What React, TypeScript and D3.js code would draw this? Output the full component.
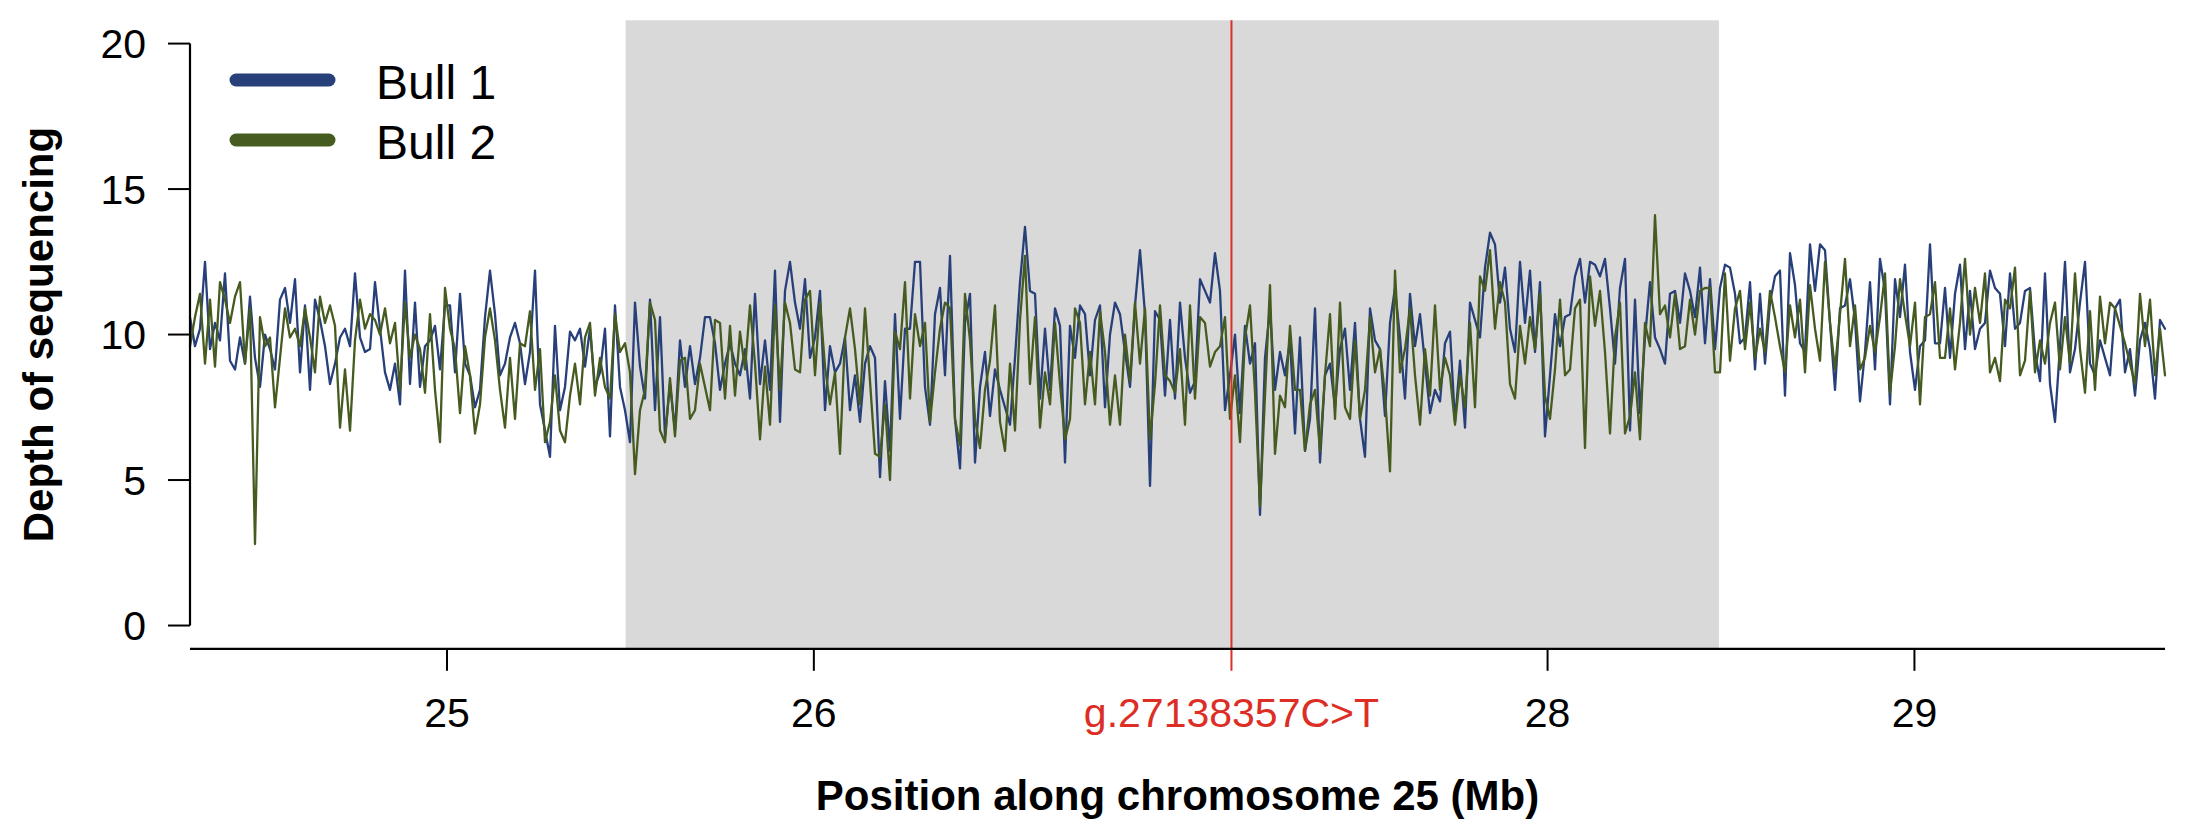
import React from 'react';
import * as d3 from 'd3';

// ---- data ----
const X_START = 24.2995; // Mb, first window
const X_END = 29.683; // Mb, last window
const xTicks = [25, 26, 28, 29];
const yTicks = [0, 5, 10, 15, 20];
const variantPos = 27.138357;
const variantLabel = 'g.27138357C>T';
const shadeStart = 25.487;
const shadeEnd = 28.467;
const seriesNames = ['Bull 1', 'Bull 2'];
const seriesColors = ['#27407A', '#465B1F'];

const bull1 = [
  10.6, 9.6, 10.2, 12.5, 9.5, 10.4, 9.8, 12.1, 9.1, 8.8, 9.9, 9.0, 11.3, 9.2, 8.2, 10.0, 9.5, 8.8, 11.2, 11.6,
  10.4, 11.9, 8.7, 11.0, 8.1, 11.2, 10.5, 9.6, 8.3, 9.0, 9.9, 10.2, 9.6, 12.1, 9.9, 9.4, 9.5, 11.8, 10.2, 8.7,
  8.1, 9.0, 7.6, 12.2, 8.3, 11.1, 8.2, 9.6, 9.8, 10.3, 8.8, 11.0, 11.0, 8.7, 11.4, 9.0, 8.6, 7.5, 8.1, 10.6,
  12.2, 10.7, 8.6, 9.0, 9.9, 10.4, 9.7,
  8.3, 9.4, 12.2, 7.6, 6.7, 5.8, 10.3, 7.4, 8.2, 10.1, 9.8, 10.2, 8.9, 10.2, 8.2, 8.7, 10.2, 6.5, 11.0, 8.2,
  7.4, 6.3, 11.1, 8.9, 7.8, 11.2, 7.4, 10.6, 6.5, 8.3, 6.7, 9.8, 8.2, 9.6, 8.3, 9.2, 10.6, 10.6, 9.7, 8.1,
  9.0, 9.7, 9.0, 8.6, 9.5, 7.8, 11.4, 8.3, 9.8, 8.1, 12.2, 7.0, 11.5, 12.5, 11.1, 10.2, 11.9, 9.2, 9.9, 11.5,
  7.4, 9.6, 8.7, 9.0, 9.9, 7.4,
  8.6, 7.0, 9.0, 9.6, 9.2, 5.1, 8.4, 6.0, 10.7, 7.1, 10.2, 10.2, 12.5, 12.5, 8.2, 6.9, 10.7, 11.6, 8.6, 12.7,
  7.1, 5.4, 10.4, 11.4, 5.6, 8.2, 9.4, 7.2, 8.8, 8.1, 7.5, 6.9, 9.2, 11.8, 13.7, 11.5, 11.4, 7.8, 10.2, 8.1,
  10.9, 10.3, 5.6, 10.3, 9.2, 11.0, 10.7, 8.6, 10.5, 11.0, 7.5, 10.0, 11.1, 10.7, 9.4, 8.2, 11.0, 12.9, 10.7, 4.8,
  10.8, 10.5, 7.9, 10.5, 7.8, 11.1,
  9.2, 8.0, 8.4, 11.9, 11.5, 11.1, 12.8, 11.5, 7.4, 8.6, 10.0, 7.3, 10.3, 9.0, 9.7, 3.8, 9.2, 10.9, 8.1, 9.4,
  8.6, 9.8, 6.6, 9.9, 6.0, 7.1, 10.9, 5.6, 8.6, 9.0, 7.5, 9.5, 10.2, 8.1, 10.4, 7.1, 5.8, 10.9, 9.8, 9.5,
  7.2, 10.4, 11.6, 9.9, 7.8, 11.4, 9.6, 10.7, 9.0, 7.3, 8.1, 7.7, 9.7, 10.1, 7.0, 9.1, 6.8, 11.1, 10.5, 9.9,
  12.3, 13.5, 13.1, 11.1, 12.3, 10.2,
  9.4, 12.5, 10.4, 12.2, 9.4, 11.8, 6.5, 8.6, 10.7, 9.6, 10.6, 10.7, 12.0, 12.6, 11.1, 12.5, 12.4, 12.0, 12.6, 10.9,
  9.0, 11.6, 12.6, 6.7, 11.2, 7.3, 9.9, 11.8, 9.9, 9.5, 9.0, 11.4, 11.5, 10.4, 12.1, 11.5, 10.6, 12.3, 9.7, 11.9,
  9.5, 11.6, 12.4, 12.3, 11.4, 9.7, 9.9, 11.8, 8.8, 11.4, 9.0, 11.1, 12.0, 12.2, 7.9, 12.8, 11.7, 9.7, 9.4, 13.1,
  11.5, 13.1, 12.9, 10.4, 8.1, 10.9,
  11.0, 11.9, 10.5, 7.7, 9.4, 11.8, 8.8, 12.6, 11.5, 7.6, 11.9, 10.6, 12.4, 9.4, 8.1, 9.6, 9.8, 13.1, 9.7, 9.7,
  11.6, 9.2, 11.4, 12.4, 9.5, 11.5, 9.5, 10.2, 10.4, 12.2, 11.6, 11.4, 9.6, 12.1, 10.2, 10.4, 11.5, 11.6, 9.4, 8.4,
  12.1, 8.3, 7.0, 9.6, 12.5, 8.7, 9.5, 11.1, 12.5, 9.0, 8.6, 9.8, 9.2, 8.6, 10.9, 11.2, 8.7, 9.5, 7.9, 9.8,
  10.4, 9.5, 7.8, 10.5, 10.2,
];

const bull2 = [
  9.6, 10.6, 11.4, 9.0, 11.2, 8.9, 11.8, 11.2, 10.4, 11.3, 11.8, 9.0, 10.9, 2.8, 10.6, 9.6, 9.9, 7.5, 9.2, 10.9,
  9.9, 10.2, 9.6, 10.9, 9.9, 8.7, 11.3, 10.4, 11.0, 10.3, 6.8, 8.8, 6.7, 9.8, 11.2, 10.2, 10.7, 10.5, 10.0, 10.9,
  9.7, 10.4, 8.1, 11.1, 9.2, 10.0, 9.5, 8.0, 10.7, 8.1, 6.3, 11.6, 10.2, 9.5, 7.3, 9.6, 8.6, 6.6, 7.6, 9.9,
  10.9, 9.8, 8.1, 6.8, 9.2, 7.1, 9.7,
  9.6, 10.8, 8.1, 9.5, 6.3, 7.0, 8.6, 6.7, 6.3, 7.9, 9.0, 7.6, 9.9, 10.4, 7.9, 9.2, 8.2, 7.8, 10.7, 9.4,
  9.7, 8.7, 5.2, 7.4, 8.1, 11.1, 10.5, 6.7, 6.3, 8.5, 6.5, 9.1, 9.2, 7.1, 7.4, 9.0, 8.2, 7.4, 10.5, 10.4,
  7.8, 10.3, 7.9, 10.1, 8.8, 11.0, 9.0, 6.4, 8.9, 6.9, 11.0, 8.1, 11.1, 10.4, 8.8, 8.7, 11.2, 11.5, 8.6, 11.1,
  8.9, 7.6, 8.7, 5.9, 9.9, 10.9,
  9.5, 7.6, 10.9, 8.4, 5.9, 5.8, 7.6, 5.0, 10.1, 9.5, 11.8, 7.8, 10.7, 9.6, 10.4, 7.0, 8.7, 10.2, 11.1, 10.9,
  7.1, 6.2, 11.4, 9.8, 7.1, 6.1, 8.1, 9.1, 11.0, 7.0, 6.0, 9.0, 6.7, 10.5, 12.7, 8.3, 10.6, 6.8, 8.7, 7.6,
  10.4, 8.3, 6.4, 7.1, 10.9, 10.4, 7.6, 9.4, 7.6, 10.8, 9.4, 6.9, 8.6, 6.9, 10.0, 8.4, 11.1, 9.0, 10.9, 6.4,
  8.3, 11.0, 8.6, 8.4, 8.0, 9.5,
  6.9, 11.0, 7.8, 10.6, 10.4, 8.9, 9.4, 9.6, 10.6, 7.1, 8.6, 6.3, 9.9, 11.0, 8.0, 4.1, 7.9, 11.7, 5.9, 7.9,
  7.5, 10.3, 8.1, 8.1, 6.0, 7.6, 8.1, 6.0, 8.6, 10.7, 7.1, 11.1, 7.5, 7.1, 9.8, 7.1, 8.1, 10.6, 8.7, 9.5,
  7.9, 5.3, 12.2, 8.7, 9.5, 10.9, 8.6, 6.9, 9.5, 7.9, 11.0, 8.1, 9.2, 8.6, 6.9, 8.6, 7.5, 10.4, 7.5, 12.0,
  11.5, 12.9, 10.2, 11.8, 11.1, 8.3,
  7.8, 10.3, 9.0, 10.6, 9.5, 11.4, 7.9, 7.1, 8.8, 11.2, 8.6, 8.8, 10.9, 11.2, 6.1, 12.0, 10.3, 11.5, 9.4, 6.6,
  9.9, 11.1, 6.6, 7.2, 8.7, 6.4, 10.4, 9.6, 14.1, 10.7, 11.0, 9.9, 11.4, 9.5, 9.6, 11.2, 10.0, 11.5, 11.6, 11.6,
  8.7, 8.7, 12.1, 9.1, 10.9, 11.5, 9.5, 11.1, 9.2, 10.2, 9.4, 11.5, 10.6, 9.6, 8.7, 11.0, 9.9, 11.2, 8.7, 11.7,
  10.2, 9.1, 12.5, 10.4, 8.8, 10.7,
  12.6, 9.6, 11.0, 8.8, 9.2, 10.3, 9.4, 10.6, 12.1, 8.0, 9.6, 11.9, 10.7, 9.6, 11.1, 7.6, 10.6, 10.7, 11.8, 9.2,
  9.2, 10.9, 8.8, 10.4, 12.6, 10.0, 11.6, 10.4, 12.1, 8.7, 9.2, 8.4, 11.2, 10.9, 12.3, 8.6, 9.1, 11.5, 8.7, 9.8,
  9.0, 10.4, 11.1, 8.8, 10.6, 9.0, 12.1, 9.5, 8.0, 10.8, 8.1, 11.3, 9.7, 11.1, 10.9, 10.3, 9.7, 9.0, 8.3, 11.4,
  9.6, 11.2, 8.6, 10.2, 8.6,
];

const series = [bull1, bull2];

// ---- layout ----
const W = 2204;
const H = 836;
const PL = 190;
const PR = 2165;
const PT = 20.3;
const PB = 648.8;
const FONT = '"Liberation Sans", Arial, Helvetica, sans-serif';

export default function App() {
  const x = d3.scaleLinear().domain([X_START, X_END]).range([PL, PR]);
  const y = d3.scaleLinear().domain([-0.8, 20.8]).range([PB, PT]);

  const makePath = (vals: number[]) => {
    const n = vals.length;
    const line = d3
      .line<number>()
      .x((_, i) => x(X_START + (i * (X_END - X_START)) / (n - 1)))
      .y((d) => y(d));
    return line(vals) || '';
  };

  const tickLen = 22;

  return (
    <svg
      width={W}
      height={H}
      viewBox={`0 0 ${W} ${H}`}
      style={{ position: 'absolute', left: 0, top: 0, background: '#fff' }}
      fontFamily={FONT}
    >
      <rect x={0} y={0} width={W} height={H} fill="#ffffff" />
      {/* highlighted region */}
      <rect
        x={x(shadeStart)}
        y={PT}
        width={x(shadeEnd) - x(shadeStart)}
        height={PB - PT}
        fill="#D9D9D9"
      />
      {/* series */}
      {series.map((vals, k) => (
        <path
          key={k}
          d={makePath(vals)}
          fill="none"
          stroke={seriesColors[k]}
          strokeWidth={2.3}
          strokeLinejoin="round"
          strokeLinecap="round"
        />
      ))}
      {/* variant line */}
      <line
        x1={x(variantPos)}
        x2={x(variantPos)}
        y1={PT}
        y2={PB + tickLen}
        stroke="#DD2E26"
        strokeWidth={2}
      />
      {/* x axis */}
      <line x1={PL} x2={PR} y1={PB} y2={PB} stroke="#000" strokeWidth={2.2} />
      {xTicks.map((t) => (
        <g key={t}>
          <line x1={x(t)} x2={x(t)} y1={PB} y2={PB + tickLen} stroke="#000" strokeWidth={2} />
          <text x={x(t)} y={726.5} fontSize={41} textAnchor="middle" fill="#000">
            {t}
          </text>
        </g>
      ))}
      <text x={x(variantPos)} y={726.5} fontSize={41} textAnchor="middle" fill="#DD2E26">
        {variantLabel}
      </text>
      <text
        x={(PL + PR) / 2}
        y={810}
        fontSize={42}
        fontWeight="bold"
        textAnchor="middle"
        fill="#000"
      >
        Position along chromosome 25 (Mb)
      </text>
      {/* y axis */}
      <line x1={PL} x2={PL} y1={y(0)} y2={y(20)} stroke="#000" strokeWidth={2.2} />
      {yTicks.map((t) => (
        <g key={t}>
          <line x1={PL - tickLen} x2={PL} y1={y(t)} y2={y(t)} stroke="#000" strokeWidth={2} />
          <text x={146} y={y(t)} dy="0.36em" fontSize={41} textAnchor="end" fill="#000">
            {t}
          </text>
        </g>
      ))}
      <text
        transform={`translate(53, ${(PT + PB) / 2}) rotate(-90)`}
        fontSize={42}
        fontWeight="bold"
        textAnchor="middle"
        fill="#000"
      >
        Depth of sequencing
      </text>
      {/* legend */}
      {seriesNames.map((name, k) => (
        <g key={name}>
          <line
            x1={236}
            x2={329}
            y1={80 + k * 60}
            y2={80 + k * 60}
            stroke={seriesColors[k]}
            strokeWidth={13}
            strokeLinecap="round"
          />
          <text x={376} y={98.5 + k * 60} fontSize={48} fill="#000">
            {name}
          </text>
        </g>
      ))}
    </svg>
  );
}
